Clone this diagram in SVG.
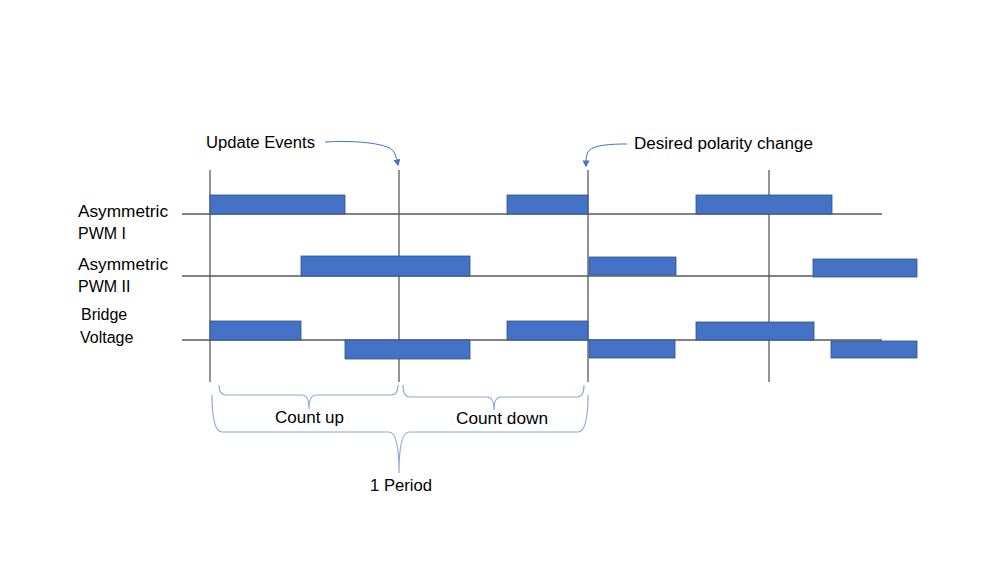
<svg xmlns="http://www.w3.org/2000/svg" width="999" height="562" viewBox="0 0 999 562">
<style>
.ax{stroke:#595959;stroke-width:1.3;fill:none}
.bx{fill:#4472c4;stroke:#2f528f;stroke-width:0.8}
.br{fill:none;stroke:#8faadc;stroke-width:1.2}
.ar{fill:none;stroke:#4472c4;stroke-width:1}
text{font-family:"Liberation Sans",Arial,sans-serif;font-size:16px;fill:#000}
</style>
<defs>
<marker id="ah" viewBox="0 0 10 10" refX="8" refY="5" markerWidth="7" markerHeight="7" orient="auto" markerUnits="userSpaceOnUse">
<path d="M0,0 L10,5 L0,10 z" fill="#4472c4"/>
</marker>
</defs>
<rect width="999" height="562" fill="#fff"/>
<g id="axes">
<line class="ax" x1="210" y1="170" x2="210" y2="382"/>
<line class="ax" x1="399" y1="170" x2="399" y2="382"/>
<line class="ax" x1="588" y1="170" x2="588" y2="382"/>
<line class="ax" x1="769" y1="170" x2="769" y2="382"/>
<line class="ax" x1="182" y1="214" x2="882" y2="214"/>
<line class="ax" x1="182" y1="276" x2="882" y2="276"/>
<line class="ax" x1="182" y1="340" x2="882" y2="340"/>
</g>
<g id="pwm1">
<rect class="bx" x="210" y="195" width="135" height="19"/>
<rect class="bx" x="507" y="195" width="81" height="19"/>
<rect class="bx" x="696" y="195" width="136" height="19"/>
</g>
<g id="pwm2">
<rect class="bx" x="301" y="256" width="169" height="20"/>
<rect class="bx" x="589" y="257" width="87" height="18"/>
<rect class="bx" x="813" y="259" width="104" height="18"/>
</g>
<g id="bridge">
<rect class="bx" x="210" y="321" width="91" height="19"/>
<rect class="bx" x="345" y="340" width="125" height="19"/>
<rect class="bx" x="507" y="321" width="81" height="19"/>
<rect class="bx" x="589" y="340" width="86" height="18"/>
<rect class="bx" x="696" y="322" width="118" height="18"/>
<rect class="bx" x="831" y="341" width="86" height="17"/>
</g>
<g id="labels">
<text x="78" y="217" textLength="90" lengthAdjust="spacingAndGlyphs">Asymmetric</text>
<text x="78" y="239">PWM I</text>
<text x="78" y="270" textLength="90" lengthAdjust="spacingAndGlyphs">Asymmetric</text>
<text x="78" y="292">PWM II</text>
<text x="81" y="320">Bridge</text>
<text x="80" y="343">Voltage</text>
</g>
<g id="update-events">
<text x="206" y="148" textLength="109" lengthAdjust="spacingAndGlyphs">Update Events</text>
</g>
<g id="polarity-change">
<text x="634" y="149" textLength="179" lengthAdjust="spacingAndGlyphs">Desired polarity change</text>
</g>
<g id="connectors">
<path class="ar" d="M325,142 C360,140 390,144 394,152 C396,156 397,160 398,165" marker-end="url(#ah)"/>
<path class="ar" d="M627,144 C610,144 592,145 588,152 C586,156 586,160 586,166" marker-end="url(#ah)"/>
</g>
<g id="braces">
<path class="br" d="M219,385 Q219,395 226,395 L302,395 Q309,395 309,409 Q309,395 316,395 L391,395 Q398,395 398,385"/>
<path class="br" d="M403,385 Q403,397 410,397 L487,397 Q494,397 494,410 Q494,397 501,397 L577,397 Q584,397 584,385"/>
<path class="br" d="M212,395 Q212,432 222,432 L389,432 Q399,432 399,473 Q399,432 409,432 L578,432 Q588,432 588,395"/>
</g>
<g id="brace-labels">
<text x="275" y="423" textLength="69" lengthAdjust="spacingAndGlyphs">Count up</text>
<text x="456" y="424" textLength="92" lengthAdjust="spacingAndGlyphs">Count down</text>
<text x="370" y="491" textLength="62" lengthAdjust="spacingAndGlyphs">1 Period</text>
</g>
</svg>
